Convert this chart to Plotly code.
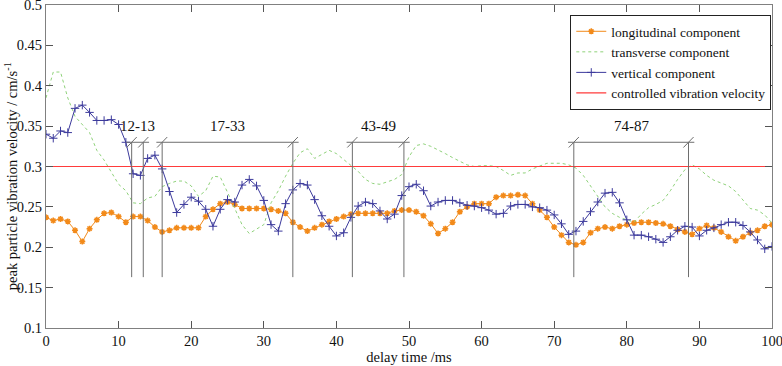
import plotly.graph_objects as go

delay_ms = list(range(0, 101))

longitudinal = [0.237, 0.233, 0.235, 0.232, 0.221, 0.207, 0.223, 0.234, 0.242, 0.243,
                0.238, 0.231, 0.238, 0.238, 0.233, 0.225, 0.219, 0.221, 0.224, 0.224,
                0.224, 0.224, 0.238, 0.247, 0.254, 0.256, 0.253, 0.248, 0.248, 0.248,
                0.248, 0.247, 0.245, 0.242, 0.231, 0.225, 0.220, 0.224, 0.228, 0.232,
                0.235, 0.238, 0.241, 0.242, 0.242, 0.242, 0.242, 0.242, 0.245, 0.246,
                0.246, 0.244, 0.239, 0.229, 0.217, 0.223, 0.231, 0.244, 0.250, 0.254,
                0.254, 0.254, 0.262, 0.264, 0.264, 0.265, 0.264, 0.254, 0.246, 0.237,
                0.225, 0.215, 0.206, 0.203, 0.206, 0.218, 0.223, 0.225, 0.223, 0.226,
                0.228, 0.230, 0.231, 0.231, 0.230, 0.229, 0.226, 0.222, 0.219, 0.216,
                0.223, 0.227, 0.224, 0.219, 0.213, 0.208, 0.213, 0.218, 0.221, 0.226,
                0.228]

transverse = [0.385, 0.417, 0.417, 0.385, 0.362, 0.352, 0.342, 0.320, 0.308, 0.293,
              0.278, 0.270, 0.255, 0.254, 0.261, 0.263, 0.275, 0.279, 0.282, 0.282,
              0.276, 0.263, 0.270, 0.288, 0.287, 0.268, 0.249, 0.228, 0.217, 0.222,
              0.228, 0.255, 0.270, 0.288, 0.304, 0.317, 0.322, 0.310, 0.315, 0.320,
              0.316, 0.309, 0.302, 0.294, 0.284, 0.279, 0.278, 0.281, 0.284, 0.290,
              0.312, 0.326, 0.328, 0.325, 0.321, 0.316, 0.311, 0.306, 0.302, 0.300,
              0.301, 0.301, 0.300, 0.295, 0.289, 0.292, 0.292, 0.297, 0.301, 0.304,
              0.304, 0.304, 0.302, 0.298, 0.289, 0.276, 0.263, 0.250, 0.242, 0.237,
              0.234, 0.231, 0.241, 0.249, 0.253, 0.258, 0.270, 0.284, 0.296, 0.302,
              0.297, 0.289, 0.283, 0.279, 0.276, 0.269, 0.258, 0.248, 0.246, 0.240,
              0.230]

vertical = [0.340, 0.335, 0.344, 0.342, 0.372, 0.376, 0.367, 0.357, 0.357, 0.358,
            0.352, 0.330, 0.291, 0.289, 0.310, 0.314, 0.297, 0.269, 0.243, 0.253,
            0.262, 0.257, 0.247, 0.226, 0.247, 0.259, 0.256, 0.277, 0.284, 0.276,
            0.258, 0.228, 0.220, 0.254, 0.271, 0.279, 0.277, 0.259, 0.239, 0.226,
            0.214, 0.218, 0.237, 0.251, 0.256, 0.254, 0.245, 0.235, 0.241, 0.264,
            0.275, 0.278, 0.270, 0.251, 0.256, 0.258, 0.258, 0.255, 0.252, 0.251,
            0.249, 0.246, 0.241, 0.242, 0.251, 0.253, 0.253, 0.250, 0.249, 0.246,
            0.240, 0.229, 0.216, 0.220, 0.232, 0.244, 0.256, 0.267, 0.268, 0.255,
            0.234, 0.215, 0.215, 0.213, 0.210, 0.206, 0.213, 0.221, 0.226, 0.225,
            0.214, 0.221, 0.224, 0.228, 0.231, 0.231, 0.227, 0.219, 0.209, 0.198,
            0.201]

controlled_velocity = 0.3

# delay-interval brackets: (left edge ms, right edge ms, label)
brackets = [(11.8, 13.4, "12-13"), (16.0, 34.0, "17-33"),
            (42.2, 49.3, "43-49"), (72.7, 88.5, "74-87")]
bracket_level = 0.330
bracket_bottom = 0.163

x_ticks = list(range(0, 101, 10))
y_ticks = [0.1, 0.15, 0.2, 0.25, 0.3, 0.35, 0.4, 0.45, 0.5]

FONT = "Liberation Serif"
ORANGE = "#f28a1a"
GREEN = "#8fd27a"
BLUE = "#3c3a9c"
RED = "#ff3b3b"
GRAY = "#6e6e6e"

fig = go.Figure()
fig.add_trace(go.Scatter(x=delay_ms, y=longitudinal, mode="lines+markers",
                         name="longitudinal component",
                         line=dict(color=ORANGE, width=1),
                         marker=dict(symbol="asterisk-open", size=5,
                                     line=dict(color=ORANGE, width=1.5), color=ORANGE)))
fig.add_trace(go.Scatter(x=delay_ms, y=transverse, mode="lines",
                         name="transverse component",
                         line=dict(color=GREEN, width=1, dash="dot")))
fig.add_trace(go.Scatter(x=delay_ms, y=vertical, mode="lines+markers",
                         name="vertical component",
                         line=dict(color=BLUE, width=1),
                         marker=dict(symbol="cross-thin-open", size=6,
                                     line=dict(color=BLUE, width=1), color=BLUE)))
fig.add_trace(go.Scatter(x=[0, 100], y=[controlled_velocity, controlled_velocity],
                         mode="lines", name="controlled vibration velocity",
                         line=dict(color=RED, width=1.2)))

ext_ms = 0.8
sl_x = 0.7
sl_y = 0.0065
for lo, hi, label in brackets:
    fig.add_shape(type="line", x0=lo - ext_ms, x1=hi + ext_ms, y0=bracket_level, y1=bracket_level,
                  line=dict(color=GRAY, width=1), layer="above")
    for xv in (lo, hi):
        fig.add_shape(type="line", x0=xv, x1=xv, y0=bracket_bottom, y1=bracket_level,
                      line=dict(color=GRAY, width=1), layer="above")
        fig.add_shape(type="line", x0=xv - sl_x, x1=xv + sl_x,
                      y0=bracket_level - sl_y, y1=bracket_level + sl_y,
                      line=dict(color=GRAY, width=1), layer="above")
    fig.add_annotation(x=(lo + hi) / 2, y=bracket_level, yshift=16, text=label,
                       showarrow=False, font=dict(family=FONT, size=15, color="#111"),
                       xanchor="center", yanchor="middle")

fig.add_annotation(xref="paper", yref="paper", x=0, y=0.47, xshift=-35,
                   text="peak particle vibration velocity / cm/s<sup>-1</sup>",
                   textangle=-90, showarrow=False,
                   font=dict(family=FONT, size=14.5, color="#111"),
                   xanchor="center", yanchor="middle")

axis_common = dict(showgrid=False, zeroline=False, showline=True, linecolor="#808080",
                   linewidth=1, mirror="ticks", ticks="inside", ticklen=7,
                   tickcolor="#555", tickwidth=1, ticklabeloverflow="allow",
                   automargin=False,
                   tickfont=dict(family=FONT, size=14.5, color="#111"))

fig.update_xaxes(range=[0, 100], tickvals=x_ticks,
                 title=dict(text="delay time /ms", font=dict(family=FONT, size=14.5, color="#111"),
                            standoff=2),
                 **axis_common)
fig.update_yaxes(range=[0.1, 0.5], tickvals=y_ticks, **axis_common)

fig.update_layout(
    width=782, height=366,
    margin=dict(l=46, r=10, t=5, b=38, autoexpand=False),
    paper_bgcolor="white", plot_bgcolor="white",
    font=dict(family=FONT, color="#111"),
    showlegend=True,
    legend=dict(x=0.999, y=0.969, xanchor="right", yanchor="top",
                bgcolor="white", bordercolor="#222", borderwidth=1,
                font=dict(family=FONT, size=13.5, color="#111"),
                itemwidth=30, tracegroupgap=0),
)

fig.write_html("out.html", config={"displayModeBar": False, "staticPlot": True},
               post_script="document.body.style.margin='0';document.body.style.overflow='hidden';")
